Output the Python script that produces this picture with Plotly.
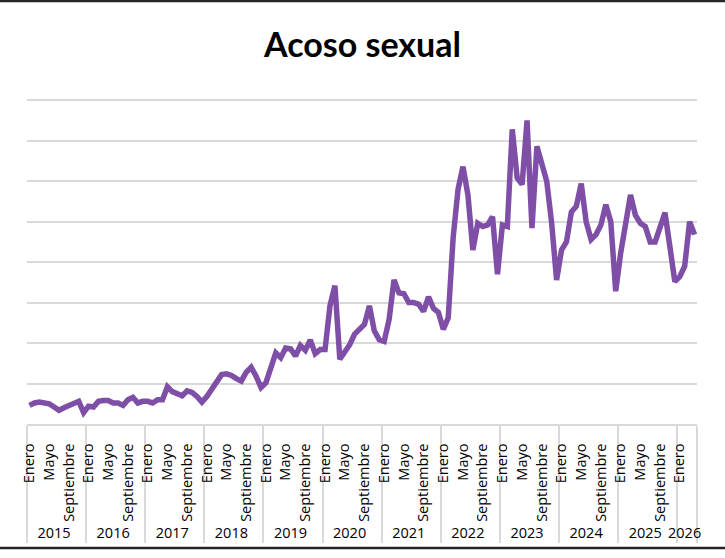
import plotly.graph_objects as go

# ---- data (1 gridline = 50 units) ----
anios = ["2015", "2016", "2017", "2018", "2019", "2020",
         "2021", "2022", "2023", "2024", "2025", "2026"]
meses = ["Enero", "Febrero", "Marzo", "Abril", "Mayo", "Junio", "Julio",
         "Agosto", "Septiembre", "Octubre", "Noviembre", "Diciembre"]
meses_rotulados = ["Enero", "Mayo", "Septiembre"]

v2015 = [23, 26, 27, 26, 25, 21, 17, 20, 23, 26, 28, 14]
v2016 = [22, 21, 28, 29, 29, 26, 26, 23, 30, 33, 26, 28]
v2017 = [28, 26, 30, 30, 46, 40, 37, 35, 41, 39, 34, 27]
v2018 = [34, 43, 55, 61, 62, 60, 56, 53, 64, 70, 59, 45]
v2019 = [51, 72, 88, 82, 94, 93, 84, 97, 91, 104, 87, 92]
v2020 = [92, 146, 171, 80, 88, 98, 111, 117, 123, 146, 115, 104]
v2021 = [102, 129, 178, 162, 161, 150, 150, 148, 139, 157, 143, 138]
v2022 = [117, 131, 230, 290, 318, 283, 215, 248, 244, 246, 256, 185]
v2023 = [246, 244, 364, 304, 296, 375, 242, 343, 322, 300, 248, 178]
v2024 = [215, 225, 262, 269, 297, 250, 228, 234, 246, 271, 250, 164]
v2025 = [211, 252, 283, 258, 248, 244, 225, 225, 246, 261, 219, 176]
v2026 = [182, 195, 250, 234]

series_por_anio = [v2015, v2016, v2017, v2018, v2019, v2020,
                   v2021, v2022, v2023, v2024, v2025, v2026]

# ---- build the two-level category axis ----
nivel_anio, nivel_mes, valores = [], [], []
for anio, vals in zip(anios, series_por_anio):
    for k, val in enumerate(vals):
        nombre = meses[k]
        # hidden month labels are made unique with zero-width spaces
        etiqueta = nombre if nombre in meses_rotulados else "\u200b" * (k + 1)
        nivel_anio.append(anio)
        nivel_mes.append(etiqueta)
        valores.append(val)

W, H = 725, 558
ML, MR, MT, MB = 27, 28, 97, 134
plot_w = W - ML - MR
plot_h = H - MT - MB


def py(pix):
    """paper y for a pixel row measured from the top of the figure"""
    return (H - MB - pix) / plot_h


fig = go.Figure()
fig.add_trace(go.Scatter(
    x=[nivel_anio, nivel_mes], y=valores, mode="lines",
    line=dict(color="#7f4fa8", width=5.5),
    name="Acoso sexual", showlegend=False,
))

grid = "#d9d9d9"
fig.update_layout(
    template="none",
    width=W, height=H,
    margin=dict(l=ML, r=MR, t=MT, b=MB, pad=0),
    paper_bgcolor="white", plot_bgcolor="white",
    font=dict(family="Open Sans", color="#000000", size=14),
    title=dict(text="<b>Acoso sexual</b>", x=0.5, xanchor="center",
               xref="container", yref="container",
               y=1 - 45 / H, yanchor="middle",
               font=dict(family="Lato", size=34, color="#000000")),
    xaxis=dict(type="multicategory", tickangle=-90, showgrid=False,
               tickmode="linear", tick0=0, dtick=1,
               showline=True, linecolor=grid, linewidth=1.5,
               showdividers=True, dividercolor=grid, dividerwidth=1.5,
               ticks="", ticklabelstandoff=12,
               automargin=False, zeroline=False,
               tickfont=dict(family="Open Sans", size=14.5, color="#000000"),
               range=[-0.5, len(valores) - 0.5]),
    yaxis=dict(range=[0, 404], dtick=50, showticklabels=False,
               showgrid=True, gridcolor=grid, gridwidth=1.5,
               zeroline=False, showline=False, ticks="", automargin=False),
    shapes=[
        dict(type="line", xref="paper", yref="paper",
             x0=-ML / plot_w, x1=(W - ML) / plot_w,
             y0=py(1), y1=py(1),
             line=dict(color="#262626", width=2.5)),
        dict(type="line", xref="paper", yref="paper",
             x0=-ML / plot_w, x1=(W - ML) / plot_w,
             y0=py(548), y1=py(548),
             line=dict(color="#262626", width=2.5)),
    ],
)

fig.write_html("out.html",
               config={"displayModeBar": False},
               post_script="document.body.style.margin='0';"
                           "document.body.style.padding='0';")
